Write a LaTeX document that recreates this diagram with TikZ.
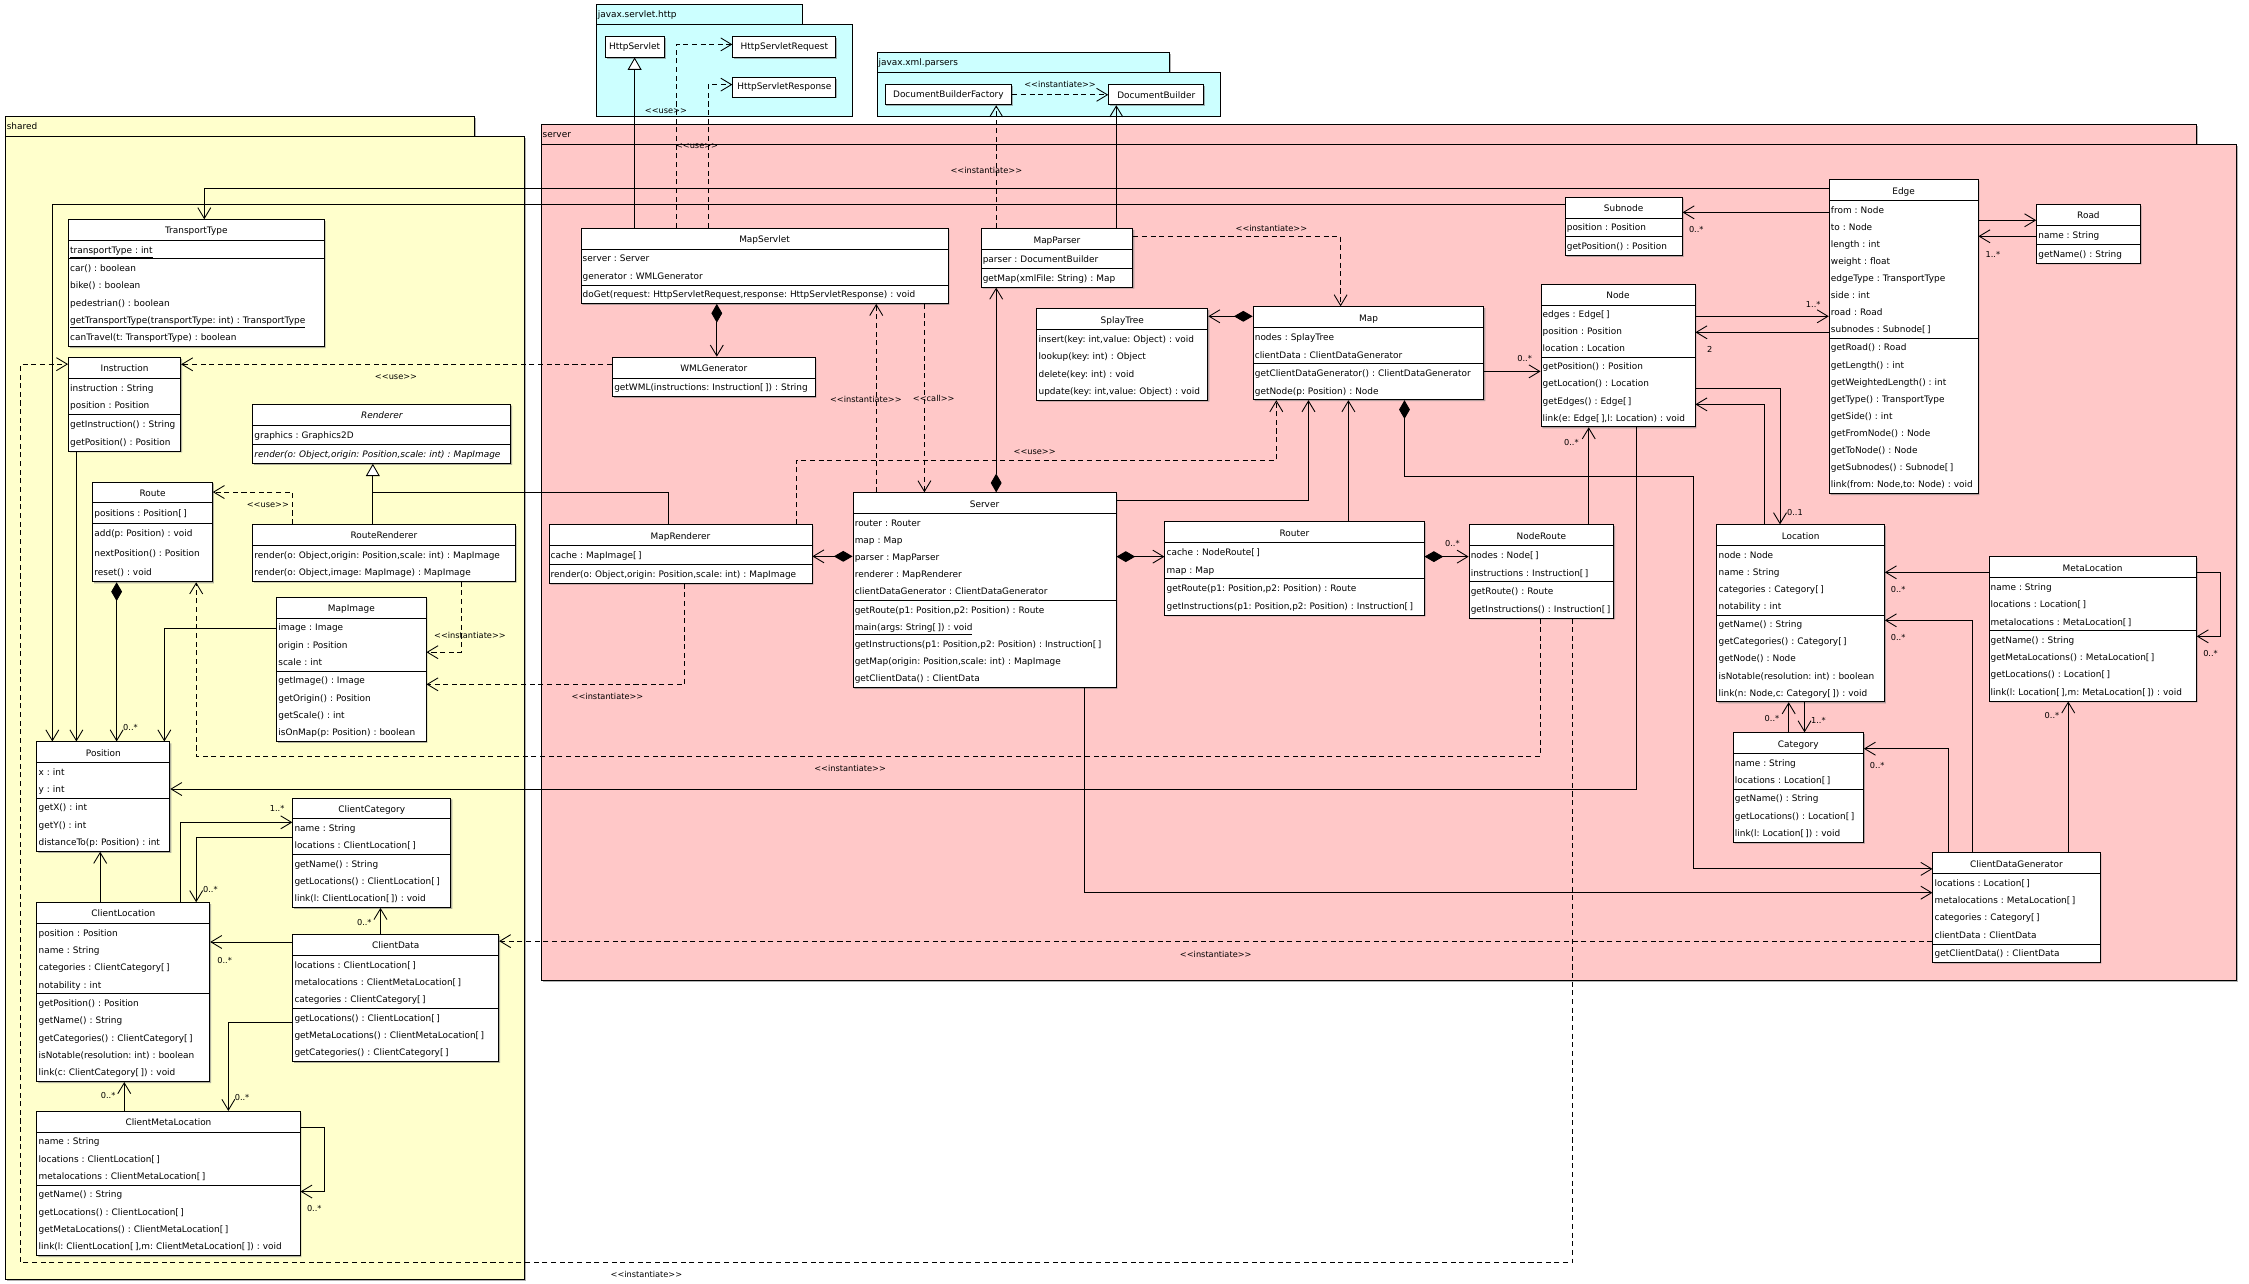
\documentclass[tikz,border=0pt]{standalone}
\usepackage{fontspec}
\setmainfont{DejaVu Sans}
\usetikzlibrary{shapes.multipart,arrows.meta,shadows}

\definecolor{sharedfill}{RGB}{255,255,204}
\definecolor{serverfill}{RGB}{255,200,200}
\definecolor{javaxfill}{RGB}{204,255,255}

\newlength{\umlrowht}
\setlength{\umlrowht}{12.05pt}
\newcommand{\umlfont}{\fontsize{6.2}{7.5}\selectfont\frenchspacing\spaceskip=0.27em\relax}
\newcommand{\lblfont}{\fontsize{5.7}{6.5}\selectfont}
\newcommand{\umlrow}[1]{\offinterlineskip\leavevmode\rule[-0.3\umlrowht]{0pt}{\umlrowht}\mbox{#1}\par}
\newcommand{\umltitle}[1]{\offinterlineskip\centering\leavevmode\rule[-4.3pt]{0pt}{13.9pt}\mbox{#1}\par}

\begin{document}
\begin{tikzpicture}
[x=1pt,y=-1pt,
  classdecorate/.style={rectangle split,rectangle split parts=3,draw,fill=white,
    line width=0.6pt,anchor=north west,inner xsep=1.2pt,inner ysep=0pt,
    font=\umlfont,align=left,
    drop shadow={shadow xshift=1pt,shadow yshift=-1pt,opacity=0.6}},%
  classtwodecorate/.style={classdecorate,rectangle split parts=2},%
  boxdecorate/.style={draw,fill=white,line width=0.6pt,anchor=north west,
    inner sep=0pt,font=\umlfont,
    drop shadow={shadow xshift=1pt,shadow yshift=-1pt,opacity=0.6}},%
  pkgdecorate/.style={draw,line width=0.6pt,anchor=north west,inner sep=0pt,
    drop shadow={shadow xshift=1pt,shadow yshift=-1pt,opacity=0.6}},%
  pkgnamedecorate/.style={anchor=west,inner sep=0pt,font=\umlfont},%
  rowht/.code={\setlength{\umlrowht}{#1}},%
  assocdecorate/.style={-{Straight Barb[length=7.5pt,width=9pt]},line width=0.6pt},%
  depdecorate/.style={assocdecorate,dash pattern=on 3.5pt off 2.5pt},%
  compdecorate/.style={{Diamond[length=13pt,width=7.5pt]}-{Straight Barb[length=7.5pt,width=9pt]},line width=0.6pt},%
  gendecorate/.style={-{Triangle[length=8.5pt,width=9.6pt,fill=white]},line width=0.6pt},%
  plaindecorate/.style={-,line width=0.6pt},%
  multdecorate/.style={inner sep=0pt,font=\lblfont},%
  stereodecorate/.style={inner sep=0pt,font=\lblfont}]
\path[use as bounding box,fill=white] (0,0) rectangle (1560,890.6);

%% packages
\node (sharedtab) at (3.3,80.5) [pkgdecorate,fill=sharedfill,minimum width=325.7pt,minimum height=13.8pt] {};
\node (sharedpkg) at (3.3,94.3) [pkgdecorate,fill=sharedfill,minimum width=360.2pt,minimum height=793.2pt] {};
\node (sharedname) at (4.5,87.4) [pkgnamedecorate] {shared};
\node (servertab) at (375,86) [pkgdecorate,fill=serverfill,minimum width=1148pt,minimum height=14pt] {};
\node (serverpkg) at (375,100) [pkgdecorate,fill=serverfill,minimum width=1176pt,minimum height=580pt] {};
\node (servername) at (376.2,93.4) [pkgnamedecorate] {server};
\node (httptab) at (413.3,3) [pkgdecorate,fill=javaxfill,minimum width=142.7pt,minimum height=13.6pt] {};
\node (httppkg) at (413.3,16.6) [pkgdecorate,fill=javaxfill,minimum width=177.4pt,minimum height=63.6pt] {};
\node (httpname) at (414.5,10.2) [pkgnamedecorate] {javax.servlet.http};
\node (xmltab) at (608,36.3) [pkgdecorate,fill=javaxfill,minimum width=203.2pt,minimum height=13.7pt] {};
\node (xmlpkg) at (608,50) [pkgdecorate,fill=javaxfill,minimum width=237.9pt,minimum height=30.2pt] {};
\node (xmlname) at (609.2,43.5) [pkgnamedecorate] {javax.xml.parsers};

%% library classes
\node (hsrv) at (419.4,25.2) [boxdecorate,minimum width=41pt,minimum height=14.1pt] {HttpServlet};
\node (hreq) at (508,25.2) [boxdecorate,minimum width=71.5pt,minimum height=14.1pt] {HttpServletRequest};
\node (hresp) at (508,53.4) [boxdecorate,minimum width=71.5pt,minimum height=13.6pt] {HttpServletResponse};
\node (dbf) at (613.6,58.5) [boxdecorate,minimum width=87.9pt,minimum height=13.9pt] {DocumentBuilderFactory};
\node (db) at (768.7,58.5) [boxdecorate,minimum width=66pt,minimum height=13.9pt] {DocumentBuilder};

%% shared classes
\node (ttype) at (47.2,152.1) [classdecorate,text width=174.9pt] {\umltitle{TransportType}%
  \nodepart{two}\umlrow{\underline{transportType : int}}%
  \nodepart{three}\umlrow{car() : boolean}\umlrow{bike() : boolean}\umlrow{pedestrian() : boolean}%
  \umlrow{\underline{getTransportType(transportType: int) : TransportType}}%
  \umlrow{canTravel(t: TransportType) : boolean}};
\node (instr) at (47.2,247.6) [classdecorate,rowht=12.3pt,text width=75.4pt] {\umltitle{Instruction}%
  \nodepart{two}\umlrow{instruction : String}\umlrow{position : Position}%
  \nodepart{three}\umlrow{getInstruction() : String}\umlrow{getPosition() : Position}};
\node (renderer) at (175,280) [classdecorate,rowht=12.7pt,text width=176.6pt] {\umltitle{\itshape Renderer}%
  \nodepart{two}\umlrow{graphics : Graphics2D}%
  \nodepart{three}\umlrow{\itshape render(o: Object,origin: Position,scale: int) : MapImage}};
\node (route) at (64,334) [classdecorate,rowht=13.4pt,text width=80.6pt] {\umltitle{Route}%
  \nodepart{two}\umlrow{positions : Position[\,]}%
  \nodepart{three}\umlrow{add(p: Position) : void}\umlrow{nextPosition() : Position}\umlrow{reset() : void}};
\node (rrend) at (175,363.6) [classtwodecorate,text width=179.6pt] {\umltitle{RouteRenderer}%
  \nodepart{two}\umlrow{render(o: Object,origin: Position,scale: int) : MapImage}%
  \umlrow{render(o: Object,image: MapImage) : MapImage}};
\node (mapimg) at (191.6,414) [classdecorate,text width=101.2pt] {\umltitle{MapImage}%
  \nodepart{two}\umlrow{image : Image}\umlrow{origin : Position}\umlrow{scale : int}%
  \nodepart{three}\umlrow{getImage() : Image}\umlrow{getOrigin() : Position}\umlrow{getScale() : int}%
  \umlrow{isOnMap(p: Position) : boolean}};
\node (pos) at (25.3,514.3) [classdecorate,text width=89.8pt] {\umltitle{Position}%
  \nodepart{two}\umlrow{x : int}\umlrow{y : int}%
  \nodepart{three}\umlrow{getX() : int}\umlrow{getY() : int}\umlrow{distanceTo(p: Position) : int}};
\node (ccat) at (202.8,553.2) [classdecorate,text width=107.2pt] {\umltitle{ClientCategory}%
  \nodepart{two}\umlrow{name : String}\umlrow{locations : ClientLocation[\,]}%
  \nodepart{three}\umlrow{getName() : String}\umlrow{getLocations() : ClientLocation[\,]}%
  \umlrow{link(l: ClientLocation[\,]) : void}};
\node (cloc) at (25.3,625.8) [classdecorate,text width=117.5pt] {\umltitle{ClientLocation}%
  \nodepart{two}\umlrow{position : Position}\umlrow{name : String}\umlrow{categories : ClientCategory[\,]}%
  \umlrow{notability : int}%
  \nodepart{three}\umlrow{getPosition() : Position}\umlrow{getName() : String}%
  \umlrow{getCategories() : ClientCategory[\,]}\umlrow{isNotable(resolution: int) : boolean}%
  \umlrow{link(c: ClientCategory[\,]) : void}};
\node (cdata) at (202.8,648) [classdecorate,text width=140.4pt] {\umltitle{ClientData}%
  \nodepart{two}\umlrow{locations : ClientLocation[\,]}\umlrow{metalocations : ClientMetaLocation[\,]}%
  \umlrow{categories : ClientCategory[\,]}%
  \nodepart{three}\umlrow{getLocations() : ClientLocation[\,]}\umlrow{getMetaLocations() : ClientMetaLocation[\,]}%
  \umlrow{getCategories() : ClientCategory[\,]}};
\node (cmloc) at (25.3,770.6) [classdecorate,text width=180.1pt] {\umltitle{ClientMetaLocation}%
  \nodepart{two}\umlrow{name : String}\umlrow{locations : ClientLocation[\,]}%
  \umlrow{metalocations : ClientMetaLocation[\,]}%
  \nodepart{three}\umlrow{getName() : String}\umlrow{getLocations() : ClientLocation[\,]}%
  \umlrow{getMetaLocations() : ClientMetaLocation[\,]}%
  \umlrow{link(l: ClientLocation[\,],m: ClientMetaLocation[\,]) : void}};

%% server classes
\node (servlet) at (402.7,157.9) [classdecorate,rowht=12.2pt,text width=252.2pt] {\umltitle{MapServlet}%
  \nodepart{two}\umlrow{server : Server}\umlrow{generator : WMLGenerator}%
  \nodepart{three}\umlrow{doGet(request: HttpServletRequest,response: HttpServletResponse) : void}};
\node (wml) at (424.6,247.4) [classtwodecorate,rowht=12.2pt,text width=138pt] {\umltitle{WMLGenerator}%
  \nodepart{two}\umlrow{getWML(instructions: Instruction[\,]) : String}};
\node (parser) at (680.2,158.4) [classdecorate,rowht=12.4pt,text width=102.9pt] {\umltitle{MapParser}%
  \nodepart{two}\umlrow{parser : DocumentBuilder}%
  \nodepart{three}\umlrow{getMap(xmlFile: String) : Map}};
\node (splay) at (718.9,213.9) [classtwodecorate,text width=116.2pt] {\umltitle{SplayTree}%
  \nodepart{two}\umlrow{insert(key: int,value: Object) : void}\umlrow{lookup(key: int) : Object}%
  \umlrow{delete(key: int) : void}\umlrow{update(key: int,value: Object) : void}};
\node (map) at (868.9,212.5) [classdecorate,rowht=12.2pt,text width=157.7pt] {\umltitle{Map}%
  \nodepart{two}\umlrow{nodes : SplayTree}\umlrow{clientData : ClientDataGenerator}%
  \nodepart{three}\umlrow{getClientDataGenerator() : ClientDataGenerator}\umlrow{getNode(p: Position) : Node}};
\node (subnode) at (1085.3,136.4) [classdecorate,rowht=12.35pt,text width=78.8pt] {\umltitle{Subnode}%
  \nodepart{two}\umlrow{position : Position}%
  \nodepart{three}\umlrow{getPosition() : Position}};
\node (node) at (1068.6,196.8) [classdecorate,rowht=11.9pt,text width=104.4pt] {\umltitle{Node}%
  \nodepart{two}\umlrow{edges : Edge[\,]}\umlrow{position : Position}\umlrow{location : Location}%
  \nodepart{three}\umlrow{getPosition() : Position}\umlrow{getLocation() : Location}%
  \umlrow{getEdges() : Edge[\,]}\umlrow{link(e: Edge[\,],l: Location) : void}};
\node (edge) at (1268.5,124.4) [classdecorate,rowht=11.88pt,text width=100.8pt] {\umltitle{Edge}%
  \nodepart{two}\umlrow{from : Node}\umlrow{to : Node}\umlrow{length : int}\umlrow{weight : float}%
  \umlrow{edgeType : TransportType}\umlrow{side : int}\umlrow{road : Road}\umlrow{subnodes : Subnode[\,]}%
  \nodepart{three}\umlrow{getRoad() : Road}\umlrow{getLength() : int}\umlrow{getWeightedLength() : int}%
  \umlrow{getType() : TransportType}\umlrow{getSide() : int}\umlrow{getFromNode() : Node}%
  \umlrow{getToNode() : Node}\umlrow{getSubnodes() : Subnode[\,]}\umlrow{link(from: Node,to: Node) : void}};
\node (road) at (1412.4,141.7) [classdecorate,rowht=12.35pt,text width=69.4pt] {\umltitle{Road}%
  \nodepart{two}\umlrow{name : String}%
  \nodepart{three}\umlrow{getName() : String}};
\node (mrend) at (380.5,363.7) [classdecorate,rowht=12.4pt,text width=180pt] {\umltitle{MapRenderer}%
  \nodepart{two}\umlrow{cache : MapImage[\,]}%
  \nodepart{three}\umlrow{render(o: Object,origin: Position,scale: int) : MapImage}};
\node (server) at (591.4,341.5) [classdecorate,rowht=11.93pt,text width=180pt] {\umltitle{Server}%
  \nodepart{two}\umlrow{router : Router}\umlrow{map : Map}\umlrow{parser : MapParser}%
  \umlrow{renderer : MapRenderer}\umlrow{clientDataGenerator : ClientDataGenerator}%
  \nodepart{three}\umlrow{getRoute(p1: Position,p2: Position) : Route}%
  \umlrow{\underline{main(args: String[\,]) : void}}%
  \umlrow{getInstructions(p1: Position,p2: Position) : Instruction[\,]}%
  \umlrow{getMap(origin: Position,scale: int) : MapImage}\umlrow{getClientData() : ClientData}};
\node (router) at (807.7,361.6) [classdecorate,rowht=12.25pt,text width=177.4pt] {\umltitle{Router}%
  \nodepart{two}\umlrow{cache : NodeRoute[\,]}\umlrow{map : Map}%
  \nodepart{three}\umlrow{getRoute(p1: Position,p2: Position) : Route}%
  \umlrow{getInstructions(p1: Position,p2: Position) : Instruction[\,]}};
\node (noderoute) at (1018.7,363.7) [classdecorate,rowht=12.25pt,text width=97.9pt] {\umltitle{NodeRoute}%
  \nodepart{two}\umlrow{nodes : Node[\,]}\umlrow{instructions : Instruction[\,]}%
  \nodepart{three}\umlrow{getRoute() : Route}\umlrow{getInstructions() : Instruction[\,]}};
\node (loc) at (1190.6,363.7) [classdecorate,rowht=11.9pt,text width=113.8pt] {\umltitle{Location}%
  \nodepart{two}\umlrow{node : Node}\umlrow{name : String}\umlrow{categories : Category[\,]}%
  \umlrow{notability : int}%
  \nodepart{three}\umlrow{getName() : String}\umlrow{getCategories() : Category[\,]}\umlrow{getNode() : Node}%
  \umlrow{isNotable(resolution: int) : boolean}\umlrow{link(n: Node,c: Category[\,]) : void}};
\node (cat) at (1201.9,508) [classdecorate,text width=87.9pt] {\umltitle{Category}%
  \nodepart{two}\umlrow{name : String}\umlrow{locations : Location[\,]}%
  \nodepart{three}\umlrow{getName() : String}\umlrow{getLocations() : Location[\,]}%
  \umlrow{link(l: Location[\,]) : void}};
\node (mloc) at (1379.3,385.9) [classdecorate,text width=141.4pt] {\umltitle{MetaLocation}%
  \nodepart{two}\umlrow{name : String}\umlrow{locations : Location[\,]}\umlrow{metalocations : MetaLocation[\,]}%
  \nodepart{three}\umlrow{getName() : String}\umlrow{getMetaLocations() : MetaLocation[\,]}%
  \umlrow{getLocations() : Location[\,]}\umlrow{link(l: Location[\,],m: MetaLocation[\,]) : void}};
\node (cdg) at (1340.4,591.2) [classdecorate,text width=113.5pt] {\umltitle{ClientDataGenerator}%
  \nodepart{two}\umlrow{locations : Location[\,]}\umlrow{metalocations : MetaLocation[\,]}%
  \umlrow{categories : Category[\,]}\umlrow{clientData : ClientData}%
  \nodepart{three}\umlrow{getClientData() : ClientData}};

%% generalizations
\draw[gendecorate] (servlet.north -| hsrv.south) -- (hsrv.south);
\draw[gendecorate] (rrend.north -| 258.6,0) -- (renderer.south -| 258.6,0);
\draw[plaindecorate] (mrend.north -| 463.8,0) |- (258.6,341.3);

%% compositions
\draw[compdecorate] (servlet.south -| 497.2,0) -- (wml.north -| 497.2,0);
\draw[compdecorate] (route.south -| 80.9,0) -- (pos.north -| 80.9,0);
\draw[compdecorate] (map.west |- 0,219.4) -- (splay.east |- 0,219.4);
\draw[compdecorate] (server.west |- 0,385.9) -- (mrend.east |- 0,385.9);
\draw[compdecorate] (server.east |- 0,386.1) -- (router.west |- 0,386.1);
\draw[compdecorate] (server.north -| 691,0) -- (parser.south -| 691,0);
\draw[compdecorate] (router.east |- 0,386.1) -- (noderoute.west |- 0,386.1);
\draw[compdecorate] (map.south -| 974.2,0) |- (1174.5,330.2) |- (cdg.west |- 0,602.7);

%% associations
\draw[assocdecorate] (edge.west |- 0,130.6) -| (ttype.north -| 141.7,0);
\draw[assocdecorate] (subnode.west |- 0,141.7) -| (pos.north -| 36.3,0);
\draw[assocdecorate] (instr.south -| 53,0) -- (pos.north -| 53,0);
\draw[assocdecorate] (mapimg.west |- 0,435.8) -| (pos.north -| 114,0);
\draw[assocdecorate] (node.south -| 1135,0) |- (pos.east |- 0,547.3);
\draw[assocdecorate] (cloc.north -| 69.5,0) -- (pos.south -| 69.5,0);
\draw[assocdecorate] (cloc.north -| 125.2,0) |- (ccat.west |- 0,570.4);
\draw[assocdecorate] (ccat.west |- 0,581) -| (cloc.north -| 136.1,0);
\draw[assocdecorate] (cdata.north -| 263.9,0) -- (ccat.south -| 263.9,0);
\draw[assocdecorate] (cdata.west |- 0,653.4) -- (cloc.east |- 0,653.4);
\draw[assocdecorate] (cdata.west |- 0,709) -| (cmloc.north -| 158.4,0);
\draw[assocdecorate] (cmloc.north -| 86.2,0) -- (cloc.south -| 86.2,0);
\draw[assocdecorate] (cmloc.east |- 0,782) -- (225,782) |- (cmloc.east |- 0,826.5);
\draw[assocdecorate] (parser.north -| 774.3,0) -- (db.south -| 774.3,0);
\draw[assocdecorate] (map.east |- 0,257.6) -- (node.west |- 0,257.6);
\draw[assocdecorate] (node.east |- 0,219.4) -- (edge.west |- 0,219.4);
\draw[assocdecorate] (edge.west |- 0,230.5) -- (node.east |- 0,230.5);
\draw[assocdecorate] (edge.west |- 0,147.3) -- (subnode.east |- 0,147.3);
\draw[assocdecorate] (edge.east |- 0,152.8) -- (road.west |- 0,152.8);
\draw[assocdecorate] (road.west |- 0,163.9) -- (edge.east |- 0,163.9);
\draw[assocdecorate] (node.east |- 0,269.6) -| (loc.north -| 1234.7,0);
\draw[assocdecorate] (loc.north -| 1223.7,0) |- (node.east |- 0,280.5);
\draw[assocdecorate] (router.north -| 935.3,0) -- (map.south -| 935.3,0);
\draw[assocdecorate] (server.east |- 0,347) -| (map.south -| 907.6,0);
\draw[assocdecorate] (noderoute.north -| 1102,0) -- (node.south -| 1102,0);
\draw[assocdecorate] (server.south -| 752.2,0) |- (cdg.west |- 0,619.2);
\draw[assocdecorate] (mloc.west |- 0,397) -- (loc.east |- 0,397);
\draw[assocdecorate] (cdg.north -| 1368.1,0) |- (loc.east |- 0,430.3);
\draw[assocdecorate] (mloc.east |- 0,397) -- (1540.3,397) |- (mloc.east |- 0,441.4);
\draw[assocdecorate] (cdg.north -| 1351.3,0) |- (cat.east |- 0,519.3);
\draw[assocdecorate] (cdg.north -| 1434.6,0) -- (mloc.south -| 1434.6,0);
\draw[assocdecorate] (loc.south -| 1251.7,0) -- (cat.north -| 1251.7,0);
\draw[assocdecorate] (cat.north -| 1240.7,0) -- (loc.south -| 1240.7,0);

%% dependencies
\draw[depdecorate] (servlet.north -| 469,0) |- (hreq.west |- 0,30.8);
\draw[depdecorate] (servlet.north -| 491.3,0) |- (hresp.west |- 0,58.7);
\draw[depdecorate] (dbf.east) -- (db.west);
\draw[depdecorate] (parser.north -| 691,0) -- (dbf.south -| 691,0);
\draw[depdecorate] (parser.east |- 0,163.9) -| (map.north -| 929.9,0);
\draw[depdecorate] (server.north -| 607.8,0) -- (servlet.south -| 607.8,0);
\draw[depdecorate] (servlet.south -| 641.2,0) -- (server.north -| 641.2,0);
\draw[depdecorate] (wml.west |- 0,252.7) -- (instr.east |- 0,252.7);
\draw[depdecorate] (rrend.north -| 202.7,0) |- (route.east |- 0,341.3);
\draw[depdecorate] (rrend.south -| 319.8,0) |- (mapimg.east |- 0,452.4);
\draw[depdecorate] (mrend.north -| 552.3,0) |- (885.3,319.3) -- (map.south -| 885.3,0);
\draw[depdecorate] (mrend.south -| 475,0) |- (mapimg.east |- 0,474.7);
\draw[depdecorate] (noderoute.south -| 1068.5,0) |- (136.1,524.6) -- (route.south -| 136.1,0);
\draw[depdecorate] (noderoute.south -| 1090.7,0) -- (1090.7,876) -| (14.4,252.6) -- (instr.west |- 0,252.6);
\draw[depdecorate] (cdg.west |- 0,652.8) -- (cdata.east |- 0,652.8);

%% multiplicities
\foreach \labelname/\x/\y/\labeltext in {m1/90.5/504.7/0..*, m2/192.2/560.7/1..*,
  m3/145.9/616.7/0..*, m4/252.7/640.2/0..*, m5/155.8/665.9/0..*, m6/75/760/0..*,
  m7/167.9/761.6/0..*, m8/218/838/0..*, m9/1057.5/248.8/0..*, m10/1090/307/0..*,
  m11/1007.4/376.9/0..*, m12/1245/355.4/0..1, m13/1229.1/498.3/0..*, m14/1261.3/499.4/1..*,
  m15/1316.6/409.2/0..*, m16/1316.6/442.3/0..*, m17/1533.3/453.6/0..*, m18/1302.1/531.1/0..*,
  m19/1423.3/496.4/0..*, m20/1176.6/159/0..*, m21/1382.3/176.2/1..*, m22/1257.7/210.9/1..*,
  m23/1186/242.3/2} {
  \node (\labelname) at (\x,\y) [multdecorate] {\labeltext};
}
%% stereotypes
\foreach \labelname/\x/\y/\labeltext in {s1/461.9/76.8/use, s2/483.5/101.7/use,
  s3/735.3/58.5/instantiate, s4/684.2/117.9/instantiate, s5/881.9/158.6/instantiate,
  s6/600.6/276.8/instantiate, s7/647.7/276.3/call, s8/274.7/261.3/use, s9/185.8/350.3/use,
  s10/326/440.8/instantiate, s11/717.7/313.7/use, s12/421.4/483.2/instantiate,
  s13/589.7/533.3/instantiate, s14/843.3/661.7/instantiate, s15/448.4/884.2/instantiate} {
  \node (\labelname) at (\x,\y) [stereodecorate] {<{}<\labeltext>{}>};
}
\end{tikzpicture}
\end{document}
